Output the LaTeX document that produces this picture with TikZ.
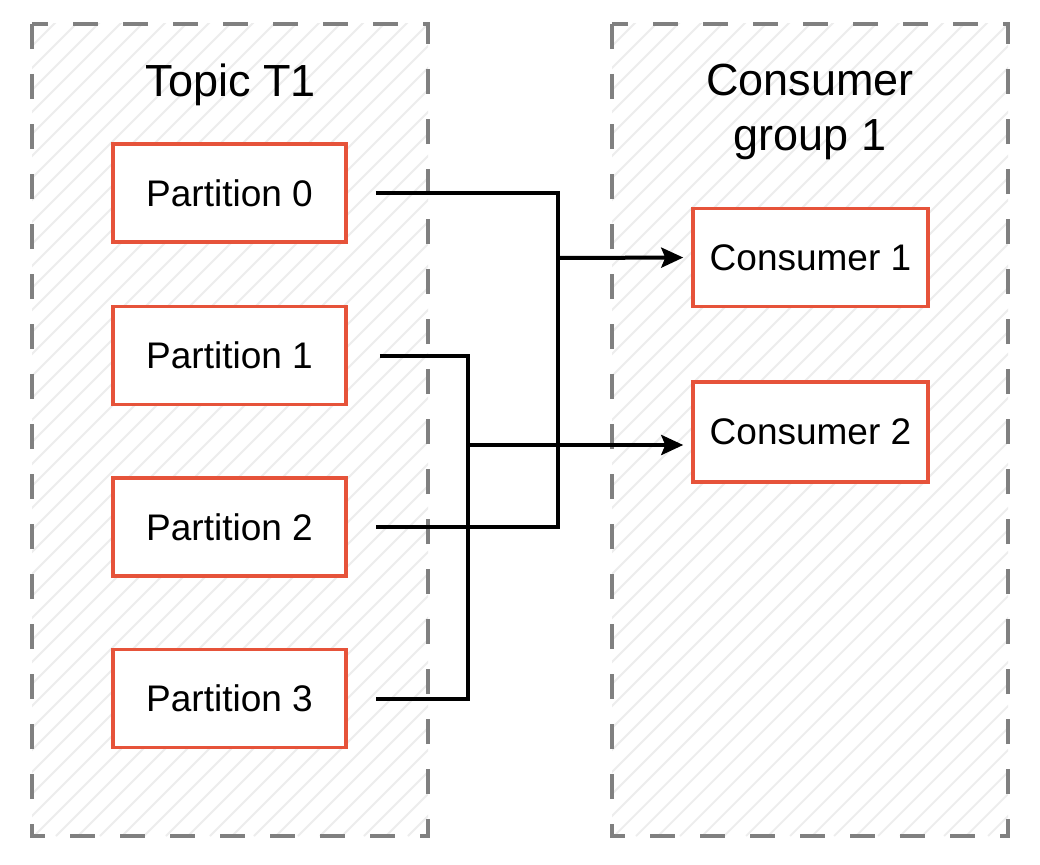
\documentclass[tikz,border=0pt]{standalone}
\usepackage{fontspec}
\setmainfont{Liberation Sans}
\usetikzlibrary{arrows.meta}
\definecolor{boxred}{HTML}{E6533A}
\definecolor{dashgray}{HTML}{808080}
\definecolor{hatchgray}{HTML}{EDEDED}
\tikzset{
  x=1pt, y=-1pt,
  group/.style={draw=dashgray, line width=3.5pt, dash pattern=on 25pt off 25pt},
  hatch/.style={draw=hatchgray, line width=1.8pt},
  item/.style={draw=boxred, line width=3.5pt, fill=white, minimum width=233pt, minimum height=98pt, inner sep=0pt, font=\fontsize{37}{44}\selectfont},
  title/.style={font=\fontsize{45}{55}\selectfont, align=center, inner sep=0pt},
  conn/.style={draw=black, line width=4pt},
  arr/.style={conn, -{Stealth[length=22pt,width=20pt,inset=4pt]}}
}
\begin{document}
\begin{tikzpicture}
\useasboundingbox (0,0) rectangle (1040,864);
\fill[white] (0,0) rectangle (1040,864);
% hatched group areas
\foreach \xa/\xb in {32/428, 612/1008}{
  \begin{scope}
    \clip (\xa,24) rectangle (\xb,836);
    \foreach \i in {-900,-878,...,420}{
      \draw[hatch] (\xa+\i,836) -- ++(850,-850);
    }
  \end{scope}
}
\draw[group] (32,24) rectangle (428,836);
\draw[group] (612,24) rectangle (1008,836);
% titles
\node[title, anchor=base] (t1) at (231,97) {Topic T1};
\node[title, anchor=base] (cg) at (810,150) {Consumer\\group 1};
% partitions
\node[item] (p0) at (229.5,193) {Partition 0};
\node[item] (p1) at (229.5,355.5) {Partition 1};
\node[item] (p2) at (229.5,527) {Partition 2};
\node[item] (p3) at (229.5,698.5) {Partition 3};
% consumers
\node[item, minimum width=235pt] (c1) at (810.5,257.5) {Consumer 1};
\node[item, minimum width=235pt, minimum height=100pt] (c2) at (810.5,432) {Consumer 2};
% junctions
\coordinate (j1) at (558,258);
\coordinate (j2) at (468,445);
% connectors
\draw[conn, shorten <=28pt, shorten >=28pt] (p0.east) -| (j1) |- (p2.east);
\draw[conn, shorten <=32pt, shorten >=28pt] (p1.east) -| (j2) |- (p3.east);
\draw[arr, shorten >=8pt] (j1) -- (c1.west);
\draw[arr, shorten >=8pt] (j2) -- (j2 -| c2.west);
\end{tikzpicture}
\end{document}
